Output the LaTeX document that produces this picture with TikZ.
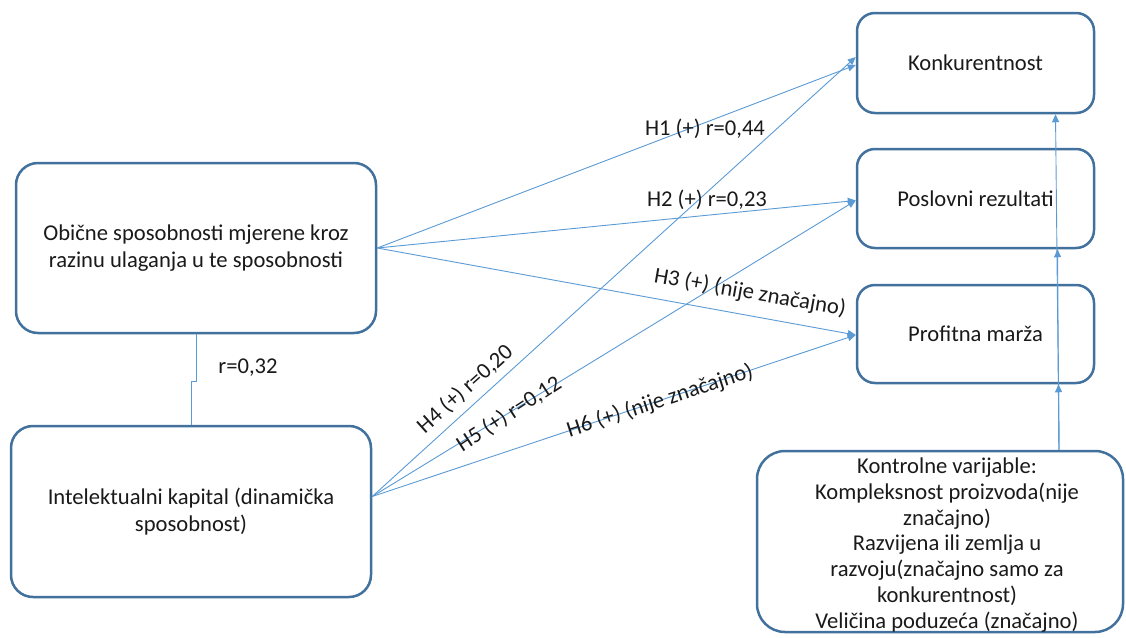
\documentclass[tikz,border=0pt]{standalone}
\usepackage{fontspec}
\setmainfont{Carlito}
\usetikzlibrary{arrows.meta,calc}

\definecolor{boxline}{HTML}{41719C}
\definecolor{linkline}{HTML}{5B9BD5}
\definecolor{ink}{HTML}{1A1A1A}

\begin{document}
\begin{tikzpicture}[x=1pt,y=-1pt,
  box/.style={draw=boxline,line width=2.5pt,rounded corners=22pt,
    align=center,inner sep=4pt,fill=none,text=ink,
    font=\fontsize{22.6}{27}\selectfont},
  smallbox/.style={box,rounded corners=18pt,minimum width=237pt},
  link/.style={draw=linkline,line width=0.9pt,
    -{Triangle[length=8pt,width=7pt]}},
  plain/.style={draw=linkline,line width=0.9pt},
  lbl/.style={inner sep=1pt,text=ink,font=\fontsize{22.6}{27}\selectfont}
]
\useasboundingbox[fill=white] (0,0) rectangle (1126,637);

% left-hand capability boxes
\node[box,minimum width=360pt,minimum height=170pt] (A) at (196,248)
  {Obične sposobnosti mjerene kroz\\razinu ulaganja u te sposobnosti};
\node[box,minimum width=360pt,minimum height=171pt] (B) at (191,511.5)
  {Intelektualni kapital (dinamička\\sposobnost)};

% outcome boxes
\node[smallbox,minimum height=100pt] (konk) at (975.5,63) {Konkurentnost};
\node[smallbox,minimum height=99pt] (posl) at (975.5,198.5) {Poslovni rezultati};
\node[smallbox,minimum height=98pt] (prof) at (975.5,334) {Profitna marža};

% control variables box; its text runs down to the lower border
\node[box,rounded corners=28pt,minimum width=366pt,minimum height=181pt] (ctrl) at (940,541.5) {};
\node[inner sep=0pt,align=center,text=ink,font=\fontsize{22.6}{25.8}\selectfont] (ctrltext) at (947,545)
  {Kontrolne varijable:\\Kompleksnost proizvoda(nije\\značajno)\\Razvijena ili zemlja u\\
   razvoju(značajno samo za\\konkurentnost)\\Veličina poduzeća (značajno)};

% correlation between the two capability boxes
\draw[plain] (A.south) -- ++(0,47) -| (B.north);
\node[lbl] (r32) at (248,368) {r=0,32};

% hypotheses from ordinary capabilities
\draw[link] (A.east) -- ($(konk.west)+(0,2)$);
\draw[link] (A.east) -- ($(posl.west)+(0,2)$);
\draw[link] (A.east) -- ($(prof.west)+(0,1)$);

% hypotheses from intellectual capital
\coordinate (bsrc) at ($(B.east)+(0,-15)$);
\draw[link] (bsrc) -- ($(konk.west)+(0,-6)$);
\draw[link] (bsrc) -- ($(posl.west)+(0,2)$);
\draw[link] (bsrc) -- ($(prof.west)+(0,1)$);

% hypothesis labels
\node[lbl] (l1) at (705,129) {H1 (+) r=0,44};
\node[lbl] (l2) at (707,200) {H2 (+) r=0,23};
\node[lbl,rotate=-10] (l3) at (750,293) {H3 (+) (nije značajno)};
\node[lbl,rotate=42] (l4) at (465,389) {H4 (+) r=0,20};
\node[lbl,rotate=33] (l5) at (509,414) {H5 (+) r=0,12};
\node[lbl,rotate=18] (l6) at (660,401) {H6 (+) (nije značajno)};

% control variables acting on every outcome
\coordinate (cv) at ($(ctrl.north)+(119,0)$);
\draw[link] (cv) -- ($(prof.south)+(83,0)$);
\draw[link] (cv) -- ($(posl.south)+(82,0)$);
\draw[link] (cv) -- ($(konk.south)+(80,0)$);
\end{tikzpicture}
\end{document}
